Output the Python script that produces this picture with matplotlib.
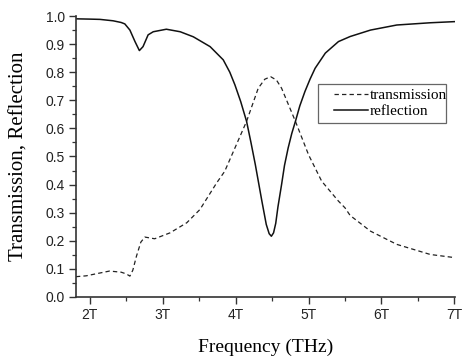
import numpy as np
import matplotlib
matplotlib.use("Agg")
import matplotlib.pyplot as plt
from matplotlib.patches import Rectangle
from matplotlib.ticker import MultipleLocator, FixedLocator

# data (frequency in THz)
refl_freq = [1.81, 2.0, 2.14, 2.32, 2.43, 2.48, 2.55, 2.62, 2.68, 2.73, 2.80, 2.87,
             3.05, 3.24, 3.42, 3.65, 3.83, 3.92, 3.99, 4.07, 4.15, 4.21, 4.27, 4.36,
             4.42, 4.46, 4.49, 4.52, 4.55, 4.58, 4.63, 4.67, 4.72, 4.77, 4.82, 4.88,
             4.95, 5.02, 5.09, 5.23, 5.41, 5.57, 5.85, 6.21, 6.67, 7.0]
refl_vals = [0.990, 0.989, 0.988, 0.983, 0.977, 0.972, 0.950, 0.909, 0.877, 0.891, 0.933, 0.944,
             0.953, 0.944, 0.926, 0.891, 0.844, 0.800, 0.755, 0.695, 0.625, 0.550, 0.471, 0.341,
             0.258, 0.225, 0.216, 0.228, 0.262, 0.320, 0.400, 0.468, 0.530, 0.582, 0.625, 0.680,
             0.731, 0.775, 0.814, 0.868, 0.909, 0.927, 0.950, 0.968, 0.976, 0.980]

trans_freq = [1.81, 1.95, 2.1, 2.27, 2.43, 2.50, 2.55, 2.59, 2.64, 2.70, 2.755, 2.89,
              3.10, 3.33, 3.51, 3.74, 3.85, 3.99, 4.15, 4.31, 4.40, 4.48, 4.56, 4.63,
              4.82, 5.0, 5.18, 5.41, 5.50, 5.57, 5.85, 6.21, 6.67, 7.0]
trans_vals = [0.072, 0.075, 0.083, 0.092, 0.088, 0.082, 0.074, 0.095, 0.145, 0.195, 0.213, 0.207,
              0.228, 0.264, 0.311, 0.406, 0.447, 0.530, 0.625, 0.743, 0.775, 0.784, 0.772, 0.743,
              0.625, 0.506, 0.412, 0.341, 0.317, 0.290, 0.234, 0.187, 0.151, 0.140]

x_ticks = [2, 3, 4, 5, 6, 7]
x_ticklabels = ["2T", "3T", "4T", "5T", "6T", "7T"]

serif = ["Liberation Serif", "DejaVu Serif"]
sans = ["Liberation Sans", "DejaVu Sans"]

fig = plt.figure(figsize=(4.63, 3.56), dpi=100)
ax = fig.add_axes([0.164, 0.166, 0.819, 0.789])

ax.plot(trans_freq, trans_vals, color="#222222", lw=0.9, dashes=(3.5, 2.5), label="transmission")
ax.plot(refl_freq, refl_vals, color="#111111", lw=1.1, label="reflection")

ax.set_xlim(1.81, 7.01)
ax.set_ylim(0, 1.0)

ax.xaxis.set_major_locator(FixedLocator(x_ticks))
ax.set_xticklabels(x_ticklabels)
ax.xaxis.set_minor_locator(MultipleLocator(0.5))
ax.yaxis.set_major_locator(MultipleLocator(0.1))
ax.yaxis.set_minor_locator(MultipleLocator(0.05))
ax.yaxis.set_major_formatter(matplotlib.ticker.FormatStrFormatter("%.1f"))

ax.tick_params(which="major", direction="out", length=5, width=1.0, color="#333333",
               labelsize=10, labelcolor="#222222", pad=3)
ax.tick_params(which="minor", direction="out", length=3, width=0.9, color="#333333")
for lab in ax.get_xticklabels() + ax.get_yticklabels():
    lab.set_family(sans)

for side in ["top", "right"]:
    ax.spines[side].set_visible(False)
for side in ["left", "bottom"]:
    ax.spines[side].set_linewidth(1.2)
    ax.spines[side].set_color("#333333")

ax.set_xlabel("Frequency (THz)", family=serif, fontsize=14, labelpad=12)
ax.set_ylabel("Transmission, Reflection", family=serif, fontsize=15, labelpad=12)

# legend: entries without frame, box drawn separately (text sits against the right edge)
leg = ax.legend(loc="center right", bbox_to_anchor=(0.978, 0.6885), prop={"family": serif, "size": 11},
                frameon=False, handlelength=2.2, handletextpad=0.1, borderpad=0,
                labelspacing=0.15, borderaxespad=0)
ax.add_patch(Rectangle((0.638, 0.619), 0.338, 0.139, transform=ax.transAxes,
                       fill=False, ec="#666666", lw=0.9, zorder=5))

fig.savefig("out.png", dpi=100)
